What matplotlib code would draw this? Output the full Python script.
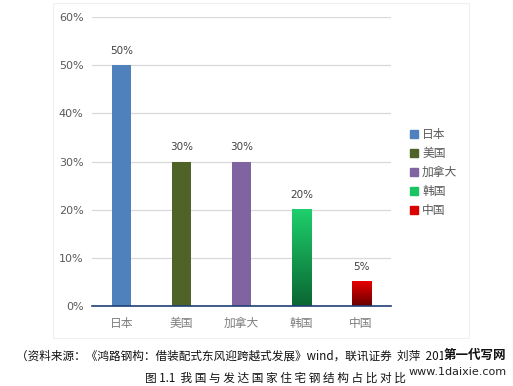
import matplotlib.pyplot as plt
import numpy as np
from matplotlib.patches import Rectangle
from matplotlib.colors import LinearSegmentedColormap

plt.rcParams['font.family'] = ['Noto Sans CJK SC', 'DejaVu Sans']

countries = ["日本", "美国", "加拿大", "韩国", "中国"]
shares = [50, 30, 30, 20, 5]
colors = ["#4F81BD", "#4F6228", "#8064A2", "#19C463", "#D90000"]
# gradient bars (top colour, bottom colour) for the last two
gradients = {3: ("#1ECF6C", "#0B6632"), 4: ("#E80000", "#680000")}
yticks = [0, 10, 20, 30, 40, 50, 60]

fig = plt.figure(figsize=(5.13, 3.86), dpi=100)
fig.patches.append(Rectangle((53 / 513, 1 - 338 / 386), (469 - 53) / 513, (338 - 3) / 386,
                             transform=fig.transFigure, fill=False,
                             edgecolor="#F0F0F0", linewidth=0.8))
ax = fig.add_axes([92 / 513, 80 / 386, 299 / 513, 289 / 386])

x = np.arange(len(countries))
width = 0.32
bars = ax.bar(x, shares, width=width, color=colors, zorder=3)

for i, (top, bot) in gradients.items():
    b = bars[i]
    cmap = LinearSegmentedColormap.from_list("g%d" % i, [bot, top])
    grad = np.linspace(0, 1, 100).reshape(-1, 1)
    ax.imshow(grad, cmap=cmap, origin="lower", aspect="auto", zorder=4,
              extent=(b.get_x(), b.get_x() + b.get_width(), 0, b.get_height()))

for xi, v in zip(x, shares):
    ax.text(xi, v + 2.0, "%d%%" % v, ha="center", va="bottom",
            fontsize=7.5, color="#404040", family="DejaVu Sans")

ax.set_xlim(-0.5, len(countries) - 0.5)
ax.set_ylim(0, 60)
ax.set_yticks(yticks)
ax.set_yticklabels(["%d%%" % t for t in yticks], family="DejaVu Sans")
ax.set_xticks(x)
ax.set_xticklabels(countries)
ax.tick_params(axis="both", length=0, labelsize=8, labelcolor="#595959")
ax.tick_params(axis="y", pad=6)
ax.tick_params(axis="x", pad=8, labelsize=8.5, labelcolor="#7F7F7F")
ax.grid(axis="y", color="#D9D9D9", linewidth=0.9, zorder=0)
for s in ["top", "right", "left"]:
    ax.spines[s].set_visible(False)
ax.spines["bottom"].set_color("#1F3F74")
ax.spines["bottom"].set_linewidth(1.2)
ax.spines["bottom"].set_zorder(5)

handles = [Rectangle((0, 0), 1, 1, color=c) for c in colors]
fig.legend(handles, countries, loc="upper left", bbox_to_anchor=(402 / 513, 1 - 120 / 386),
           frameon=False, fontsize=8.5, handlelength=0.65, handleheight=0.65,
           handletextpad=0.35, labelspacing=0.5, labelcolor="#595959",
           borderpad=0.2)

fig.text(16 / 513, 1 - 356 / 386,
         "（资料来源：《鸿路钢构：借装配式东风迎跨越式发展》wind，联讯证券  刘萍  2018）",
         fontsize=8.4, va="center", ha="left", color="#111111")
fig.text(275 / 513, 1 - 378 / 386,
         "图 1.1  我 国 与 发 达 国 家 住 宅 钢 结 构 占 比 对 比",
         fontsize=8.4, va="center", ha="center", color="#111111")
fig.text(475 / 513, 1 - 355 / 386, "第一代写网", fontsize=9, va="center", ha="center",
         color="#111111", fontweight="bold",
         bbox=dict(facecolor="white", edgecolor="none", pad=0.5))
fig.text(458 / 513, 1 - 372 / 386, "www.1daixie.com", fontsize=8, va="center",
         ha="center", color="#222222", family="DejaVu Sans")

fig.savefig("out.png", dpi=100)
